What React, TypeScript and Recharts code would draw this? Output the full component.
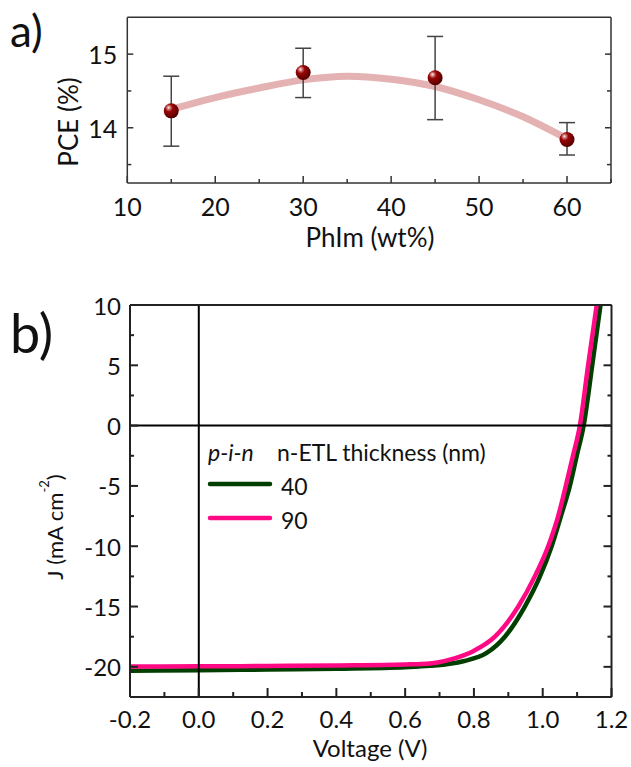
import React from "react";
import {
  ComposedChart,
  LineChart,
  Line,
  Scatter,
  ErrorBar,
  XAxis,
  YAxis,
  ReferenceLine,
} from "recharts";

const FONT = "Lato, 'Open Sans', sans-serif";

// panel a: PCE vs PhIm loading
const phimWt = [15, 30, 45, 60];
const pceMean = [14.23, 14.75, 14.68, 13.84];
const pceHigh = [14.7, 15.08, 15.24, 14.07];
const pceLow = [13.75, 14.41, 14.11, 13.63];

// guide-to-the-eye fit through the points
const fitWt = [15, 20, 25, 30, 35, 40, 45, 50, 55, 60];
const fitPce = [14.25, 14.41, 14.54, 14.65, 14.7, 14.66, 14.56, 14.38, 14.15, 13.85];

const phimTicks = [10, 15, 20, 25, 30, 35, 40, 45, 50, 55, 60, 65];
const phimMajor = [10, 20, 30, 40, 50, 60];
const pceTicks = [13.5, 14, 14.5, 15];
const pceMajor = [14, 15];

// panel b: J-V curves for two n-ETL thicknesses
const voltage40 = [-0.2, 0.0, 0.2, 0.4, 0.6, 0.672, 0.769, 0.837, 0.89, 0.948, 0.992, 1.026, 1.053, 1.079, 1.099, 1.119, 1.144, 1.168];
const current40 = [-20.32, -20.28, -20.22, -20.15, -20.03, -19.92, -19.54, -18.85, -17.5, -15.0, -12.5, -10.0, -7.5, -5.0, -2.5, 0.0, 5.0, 10.0];
const voltage90 = [-0.2, 0.0, 0.2, 0.4, 0.6, 0.672, 0.73, 0.798, 0.861, 0.929, 0.977, 1.016, 1.045, 1.067, 1.088, 1.108, 1.132, 1.157];
const current90 = [-19.98, -19.96, -19.93, -19.88, -19.8, -19.72, -19.4, -18.7, -17.5, -15.0, -12.5, -10.0, -7.5, -5.0, -2.5, 0.0, 5.0, 10.0];

const vTicks = [-0.2, -0.1, 0.0, 0.1, 0.2, 0.3, 0.4, 0.5, 0.6, 0.7, 0.8, 0.9, 1.0, 1.1, 1.2];
const vMajor = [-0.2, 0.0, 0.2, 0.4, 0.6, 0.8, 1.0, 1.2];
const jTicks = [-22.5, -20, -17.5, -15, -12.5, -10, -7.5, -5, -2.5, 0, 2.5, 5, 7.5, 10];
const jMajor = [-20, -15, -10, -5, 0, 5, 10];

const GREEN = "#013f01";
const PINK = "#ff0a84";
const AXIS = "#333";

type Side = "bottom" | "top" | "left" | "right";

interface TickOpts {
  majors: number[];
  major: number;
  minor: number;
  labels?: boolean;
  fontSize?: number;
  gap?: number;
  fmt?: (v: number) => string;
  stroke?: string;
  width?: number;
}

// inward tick marks, with labels only on major values
function axisTick(side: Side, o: TickOpts) {
  return (props: any) => {
    const { x, y, payload } = props;
    const v = payload.value as number;
    const isMajor = o.majors.some((m) => Math.abs(m - v) < 1e-9);
    const len = isMajor ? o.major : o.minor;
    const stroke = o.stroke ?? AXIS;
    const sw = o.width ?? 1.5;
    const text = o.fmt ? o.fmt(v) : String(v);
    const gap = o.gap ?? 10;
    let line;
    let label = null;
    if (side === "bottom") {
      line = <line x1={x} y1={y} x2={x} y2={y - len} stroke={stroke} strokeWidth={sw} />;
      if (o.labels && isMajor)
        label = (
          <text x={x} y={y + gap} textAnchor="middle" dominantBaseline="central" fontSize={o.fontSize} fontFamily={FONT} fill="#111">
            {text}
          </text>
        );
    } else if (side === "top") {
      line = <line x1={x} y1={y} x2={x} y2={y + len} stroke={stroke} strokeWidth={sw} />;
    } else if (side === "left") {
      line = <line x1={x} y1={y} x2={x + len} y2={y} stroke={stroke} strokeWidth={sw} />;
      if (o.labels && isMajor)
        label = (
          <text x={x - gap} y={y} textAnchor="end" dominantBaseline="central" fontSize={o.fontSize} fontFamily={FONT} fill="#111">
            {text}
          </text>
        );
    } else {
      line = <line x1={x} y1={y} x2={x - len} y2={y} stroke={stroke} strokeWidth={sw} />;
    }
    return (
      <g>
        {line}
        {label}
      </g>
    );
  };
}

function Sphere(props: any) {
  const { cx, cy } = props;
  if (cx == null || cy == null) return null;
  return <circle cx={cx} cy={cy} r={7.5} fill="url(#sphereFill)" />;
}

function PcePanel() {
  const points = phimWt.map((x, i) => ({
    x,
    pce: pceMean[i],
    err: [pceMean[i] - pceLow[i], pceHigh[i] - pceMean[i]],
  }));
  const fit = fitWt.map((x, i) => ({ x, pce: fitPce[i] }));
  const tickBase = { stroke: AXIS, width: 1.5 };

  return (
    <div style={{ position: "absolute", left: 0, top: 0, width: 631, height: 250 }}>
      <ComposedChart width={631} height={250} margin={{ top: 16.3, right: 19, bottom: 37, left: 0 }}>
        <defs>
          <radialGradient id="sphereFill" cx="38%" cy="34%" r="68%" fx="32%" fy="28%">
            <stop offset="0%" stopColor="#fff2f2" />
            <stop offset="14%" stopColor="#d98a8a" />
            <stop offset="38%" stopColor="#980606" />
            <stop offset="80%" stopColor="#6a0000" />
            <stop offset="100%" stopColor="#4a0000" />
          </radialGradient>
        </defs>
        <XAxis
          type="number"
          dataKey="x"
          domain={[10, 65]}
          ticks={phimTicks}
          interval={0}
          allowDataOverflow
          height={30}
          tickSize={0}
          tickMargin={0}
          tickLine={false}
          axisLine={{ stroke: AXIS, strokeWidth: 1.5 }}
          tick={axisTick("bottom", { ...tickBase, majors: phimMajor, major: 7, minor: 4, labels: true, fontSize: 25, gap: 23 })}
        />
        <XAxis
          xAxisId="top"
          orientation="top"
          type="number"
          domain={[10, 65]}
          ticks={phimTicks}
          interval={0}
          allowDataOverflow
          height={1}
          tickSize={0}
          tickMargin={0}
          tickLine={false}
          axisLine={{ stroke: AXIS, strokeWidth: 1.5 }}
          tick={axisTick("top", { ...tickBase, majors: phimMajor, major: 4, minor: 3 })}
        />
        <YAxis
          type="number"
          domain={[13.25, 15.5]}
          ticks={pceTicks}
          interval={0}
          allowDataOverflow
          width={127.3}
          tickSize={0}
          tickMargin={0}
          tickLine={false}
          axisLine={{ stroke: AXIS, strokeWidth: 1.5 }}
          tick={axisTick("left", { ...tickBase, majors: pceMajor, major: 6, minor: 4, labels: true, fontSize: 25, gap: 10 })}
        />
        <YAxis
          yAxisId="right"
          orientation="right"
          type="number"
          domain={[13.25, 15.5]}
          ticks={pceTicks}
          interval={0}
          allowDataOverflow
          width={1}
          tickSize={0}
          tickMargin={0}
          tickLine={false}
          axisLine={{ stroke: AXIS, strokeWidth: 1.5 }}
          tick={axisTick("right", { ...tickBase, majors: pceMajor, major: 6, minor: 4 })}
        />
        <Line
          data={fit}
          dataKey="pce"
          type="monotone"
          stroke="#e4b2b2"
          strokeWidth={7}
          dot={false}
          activeDot={false}
          isAnimationActive={false}
        />
        <Scatter data={points} dataKey="pce" shape={(p: any) => <Sphere {...p} />} isAnimationActive={false}>
          <ErrorBar dataKey="err" direction="y" width={8} stroke="#444" strokeWidth={1.5} isAnimationActive={false} />
        </Scatter>
      </ComposedChart>
    </div>
  );
}

function JvPanel() {
  const rows40 = voltage40.map((v, i) => ({ v, j: current40[i] }));
  const rows90 = voltage90.map((v, i) => ({ v, j: current90[i] }));
  const tickBase = { stroke: "#222", width: 2 };

  return (
    <div style={{ position: "absolute", left: 0, top: 250, width: 631, height: 517 }}>
      <LineChart width={631} height={517} margin={{ top: 54, right: 18.5, bottom: 40, left: 0 }}>
        <XAxis
          type="number"
          dataKey="v"
          domain={[-0.2, 1.2]}
          ticks={vTicks}
          interval={0}
          allowDataOverflow
          height={30}
          tickSize={0}
          tickMargin={0}
          tickLine={false}
          axisLine={{ stroke: "#222", strokeWidth: 2 }}
          tick={axisTick("bottom", { ...tickBase, majors: vMajor, major: 9, minor: 5, labels: true, fontSize: 24, gap: 21, fmt: (v) => v.toFixed(1) })}
        />
        <XAxis
          xAxisId="top"
          orientation="top"
          type="number"
          domain={[-0.2, 1.2]}
          ticks={vTicks}
          interval={0}
          allowDataOverflow
          height={1}
          tickSize={0}
          tickMargin={0}
          tickLine={false}
          axisLine={{ stroke: "#222", strokeWidth: 2 }}
          tick={axisTick("top", { ...tickBase, majors: vMajor, major: 9, minor: 5 })}
        />
        <YAxis
          type="number"
          domain={[-22.5, 10]}
          ticks={jTicks}
          interval={0}
          allowDataOverflow
          width={130}
          tickSize={0}
          tickMargin={0}
          tickLine={false}
          axisLine={{ stroke: "#222", strokeWidth: 2 }}
          tick={axisTick("left", { ...tickBase, majors: jMajor, major: 8, minor: 4, labels: true, fontSize: 24, gap: 9 })}
        />
        <YAxis
          yAxisId="right"
          orientation="right"
          type="number"
          domain={[-22.5, 10]}
          ticks={jTicks}
          interval={0}
          allowDataOverflow
          width={1}
          tickSize={0}
          tickMargin={0}
          tickLine={false}
          axisLine={{ stroke: "#222", strokeWidth: 2 }}
          tick={axisTick("right", { ...tickBase, majors: jMajor, major: 8, minor: 4 })}
        />
        <Line
          data={rows40}
          dataKey="j"
          type="monotone"
          stroke={GREEN}
          strokeWidth={4.5}
          dot={false}
          activeDot={false}
          isAnimationActive={false}
        />
        <Line
          data={rows90}
          dataKey="j"
          type="monotone"
          stroke={PINK}
          strokeWidth={4.5}
          dot={false}
          activeDot={false}
          isAnimationActive={false}
        />
        <ReferenceLine x={0} stroke="#000" strokeWidth={2} />
        <ReferenceLine y={0} stroke="#000" strokeWidth={2} />
      </LineChart>
    </div>
  );
}

// panel letters, axis titles and the J-V legend
function Annotations() {
  return (
    <svg
      width={631}
      height={767}
      style={{ position: "absolute", left: 0, top: 0, pointerEvents: "none" }}
      fontFamily={FONT}
    >
      <text x={10} y={47} fontSize={44} fill="#111">a)</text>
      <text x={10} y={353} fontSize={54} fill="#111">b)</text>

      <text x={0} y={0} fontSize={26} fill="#111" textAnchor="middle" dominantBaseline="central" transform="translate(68 122) rotate(-90)">
        PCE (%)
      </text>
      <text x={370} y={237} fontSize={26} fill="#111" textAnchor="middle" dominantBaseline="central">
        PhIm (wt%)
      </text>

      <text x={0} y={0} fontSize={22} fill="#111" textAnchor="middle" dominantBaseline="central" transform="translate(54 527) rotate(-90)">
        J (mA cm<tspan fontSize={13} dy={-10}>-2</tspan><tspan dy={10}>)</tspan>
      </text>
      <text x={370} y={747} fontSize={24} fill="#111" textAnchor="middle" dominantBaseline="central">
        Voltage (V)
      </text>

      <text x={208} y={452} fontSize={23} fill="#111" fontStyle="italic" dominantBaseline="central">p-i-n</text>
      <text x={277} y={452} fontSize={23} fill="#111" dominantBaseline="central">n-ETL thickness (nm)</text>
      <line x1={210} y1={484} x2={270} y2={484} stroke={GREEN} strokeWidth={4.5} strokeLinecap="round" />
      <text x={281} y={486} fontSize={23} fill="#111" dominantBaseline="central">40</text>
      <line x1={210} y1={518} x2={270} y2={518} stroke={PINK} strokeWidth={4.5} strokeLinecap="round" />
      <text x={281} y={520} fontSize={23} fill="#111" dominantBaseline="central">90</text>
    </svg>
  );
}

export default function App() {
  return (
    <div style={{ position: "absolute", left: 0, top: 0, width: 631, height: 767, background: "#fff" }}>
      <PcePanel />
      <JvPanel />
      <Annotations />
    </div>
  );
}
